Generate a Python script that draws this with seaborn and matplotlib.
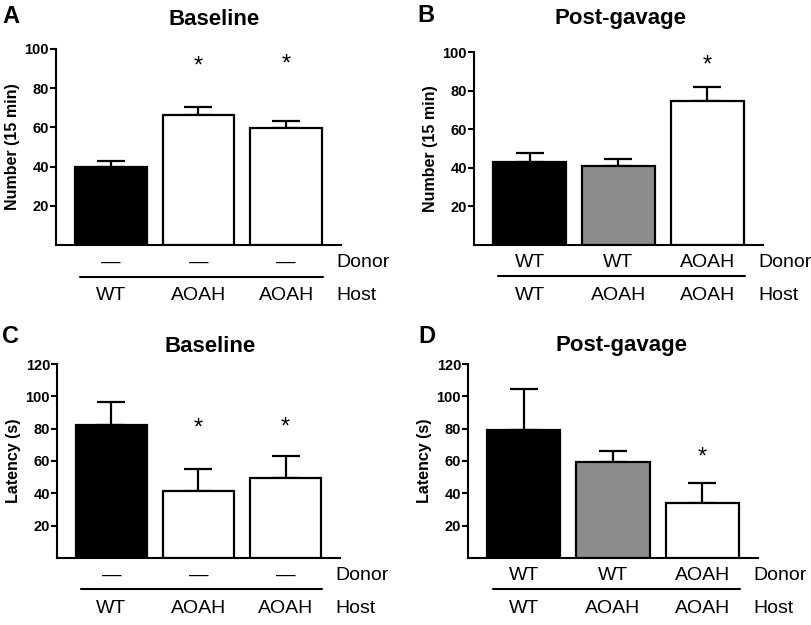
import matplotlib
matplotlib.use("Agg")
import matplotlib.pyplot as plt
import matplotlib.transforms as mtransforms
import seaborn as sns
import pandas as pd

# ---- data ----
groups = ["g1", "g2", "g3"]
a_mean = [40, 66.5, 59.5]
a_err = [3, 4, 4]
b_mean = [43, 41, 74.5]
b_err = [4.5, 3.8, 7.5]
c_mean = [82, 41.2, 49.7]
c_err = [14.7, 13.8, 13.6]
d_mean = [79, 59.5, 34]
d_err = [25.5, 6.5, 12.3]

a_donor = ["—", "—", "—"]
a_host = ["WT", "AOAH", "AOAH"]
b_donor = ["WT", "WT", "AOAH"]
b_host = ["WT", "AOAH", "AOAH"]

a_stars = [None, 91, 92]
b_stars = [None, None, 93]
c_stars = [None, 80, 81]
d_stars = [None, None, 62]

colors_base = ["#000000", "#ffffff", "#ffffff"]
colors_post = ["#000000", "#8c8c8c", "#ffffff"]

sns.set_theme(style="ticks")
plt.rcParams['font.family'] = ['Liberation Sans', 'DejaVu Sans']
plt.rcParams['text.color'] = 'black'
plt.rcParams['axes.labelcolor'] = 'black'
plt.rcParams['xtick.color'] = 'black'
plt.rcParams['ytick.color'] = 'black'

W, H = 812, 625
fig = plt.figure(figsize=(W / 100, H / 100), dpi=100)


def px(x, y):
    return x / W, 1 - y / H


panels = [
    dict(pos=[56/W, 1-245/H, 285/W, 196/H], mean=a_mean, err=a_err,
         colors=colors_base, ylim=100, yticks=[20, 40, 60, 80, 100],
         ylabel="Number (15 min)", title="Baseline", letter="A",
         title_xy=(214, 25), letter_xy=(2, 23),
         donor=a_donor, host=a_host, stars=a_stars),
    dict(pos=[474/W, 1-245/H, 289/W, 193/H], mean=b_mean, err=b_err,
         colors=colors_post, ylim=100, yticks=[20, 40, 60, 80, 100],
         ylabel="Number (15 min)", title="Post-gavage", letter="B",
         title_xy=(621, 24), letter_xy=(417, 22),
         donor=b_donor, host=b_host, stars=b_stars),
    dict(pos=[57/W, 1-558/H, 283/W, 194/H], mean=c_mean, err=c_err,
         colors=colors_base, ylim=120, yticks=[20, 40, 60, 80, 100, 120],
         ylabel="Latency (s)", title="Baseline", letter="C",
         title_xy=(210, 352), letter_xy=(2, 343),
         donor=a_donor, host=a_host, stars=c_stars),
    dict(pos=[468/W, 1-558/H, 290/W, 194/H], mean=d_mean, err=d_err,
         colors=colors_post, ylim=120, yticks=[20, 40, 60, 80, 100, 120],
         ylabel="Latency (s)", title="Post-gavage", letter="D",
         title_xy=(622, 351), letter_xy=(418, 343),
         donor=b_donor, host=b_host, stars=d_stars),
]

for p in panels:
    ax = fig.add_axes(p["pos"])
    df = pd.DataFrame({"group": groups, "value": p["mean"]})
    sns.barplot(data=df, x="group", y="value", hue="group", palette=p["colors"],
                width=0.82, edgecolor="black", linewidth=1.6, saturation=1,
                legend=False, ax=ax, zorder=3)
    ax.errorbar(range(len(groups)), p["mean"],
                yerr=[[0]*len(groups), p["err"]], fmt="none", ecolor="black",
                elinewidth=1.6, capsize=10, capthick=1.6, zorder=2)
    ax.set_xlim(-0.625, 2.625)
    ax.set_ylim(0, p["ylim"])
    ax.set_yticks(p["yticks"])
    ax.set_yticklabels([str(t) for t in p["yticks"]], fontsize=10.5, fontweight="bold")
    ax.set_xticks([])
    ax.set_xlabel("")
    ax.set_ylabel(p["ylabel"], fontsize=11.5, fontweight="bold", labelpad=3, color="black")
    for s in ["top", "right"]:
        ax.spines[s].set_visible(False)
    for s in ["left", "bottom"]:
        ax.spines[s].set_linewidth(1.5)
        ax.spines[s].set_color("black")
    ax.tick_params(axis="y", direction="out", length=4, width=1.5, pad=1,
                   colors="black", labelcolor="black")
    # title and panel letter
    tx, ty = px(*p["title_xy"])
    fig.text(tx, ty, p["title"], fontsize=16, fontweight="bold", ha="center",
             va="baseline", color="black")
    lx, ly = px(*p["letter_xy"])
    fig.text(lx, ly, p["letter"], fontsize=17, fontweight="bold", ha="left",
             va="baseline", color="black")
    # stars
    for i, s in enumerate(p["stars"]):
        if s is not None:
            ax.text(i, s, "*", ha="center", va="center", fontsize=17, color="black")
    # category labels
    tr = mtransforms.blended_transform_factory(ax.transData, ax.transAxes)
    for i in range(len(groups)):
        ax.text(i, -0.09, p["donor"][i], transform=tr, ha="center", va="center",
                fontsize=14, clip_on=False, color="black")
        ax.text(i, -0.26, p["host"][i], transform=tr, ha="center", va="center",
                fontsize=14, clip_on=False, color="black")
    ax.text(2.57, -0.09, "Donor", transform=tr, ha="left", va="center",
            fontsize=14, color="black")
    ax.text(2.57, -0.26, "Host", transform=tr, ha="left", va="center",
            fontsize=14, color="black")
    ax.plot([-0.35, 2.42], [-0.162, -0.162], transform=tr, color="black",
            lw=1.5, clip_on=False)

fig.savefig("out.png", dpi=100)
